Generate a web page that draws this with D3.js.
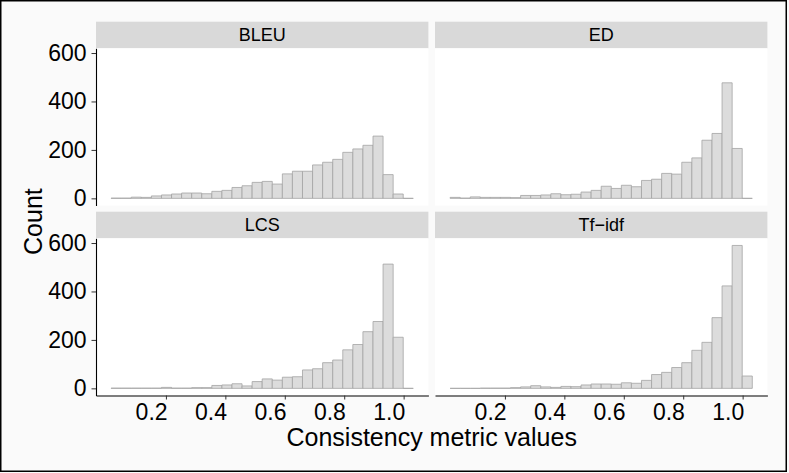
<!DOCTYPE html>
<html>
<head>
<meta charset="utf-8">
<script src="https://cdn.jsdelivr.net/npm/d3@7"></script>
<style>
  html, body { margin: 0; padding: 0; background: #fafafa; }
  svg { display: block; }
  text { font-family: "Liberation Sans", Arial, Helvetica, sans-serif; fill: #000; }
</style>
</head>
<body>
<svg id="chart" width="789" height="473"></svg>
<script>
// facet names, in draw order (row by row)
var panelNames = ["BLEU", "ED", "LCS", "Tf\u2212idf"];

// histogram bins: 30 bins of equal width, left edge of the first one
var binStart = 0.0155;
var binWidth = 0.0339;

// counts per bin
var bleuCounts  = [1, 1, 5, 4, 10, 14, 18, 22, 22, 19, 29, 33, 45, 52, 66, 70, 59, 101, 112, 112, 138, 149, 161, 190, 204, 219, 257, 98, 18, 0];
var edCounts    = [4, 1, 6, 4, 4, 4, 3, 12, 12, 14, 19, 15, 17, 26, 33, 50, 41, 54, 48, 74, 79, 103, 100, 149, 167, 240, 268, 477, 206, 0];
var lcsCounts   = [1, 1, 1, 1, 1, 4, 1, 1, 3, 3, 12, 14, 19, 10, 28, 39, 34, 46, 48, 76, 81, 106, 117, 159, 181, 234, 276, 513, 211, 0];
var tfidfCounts = [0, 0, 0, 1, 1, 1, 3, 6, 11, 6, 4, 8, 7, 14, 18, 18, 17, 23, 21, 33, 57, 66, 86, 106, 157, 190, 292, 423, 590, 51];

var xTicks = [0.2, 0.4, 0.6, 0.8, 1.0];
var yTicks = [0, 200, 400, 600];

var allCounts = [bleuCounts, edCounts, lcsCounts, tfidfCounts];

var svg = d3.select("#chart");

// layout
var W = 789, H = 473;
var colX = [96, 435], panelW = 332.4;
var rowY = [48.3, 238.3], panelH = 157.2;
var stripH = 26.6;

svg.append("rect").attr("x", 0).attr("y", 0).attr("width", W).attr("height", H).attr("fill", "#fafafa");

// shared scales, expanded 5% like ggplot
var nBins = bleuCounts.length;
var xLo = binStart, xHi = binStart + nBins * binWidth;
var xPad = (xHi - xLo) * 0.05;
var x = d3.scaleLinear().domain([xLo - xPad, xHi + xPad]).range([0, panelW]);

var yMax = d3.max(allCounts, function(c) { return d3.max(c); });
var y = d3.scaleLinear().domain([-yMax * 0.05, yMax * 1.05]).range([panelH, 0]);

panelNames.forEach(function(name, i) {
    var col = i % 2, row = Math.floor(i / 2);
    var g = svg.append("g").attr("transform", "translate(" + colX[col] + "," + rowY[row] + ")");

    // strip
    g.append("rect")
        .attr("x", 0).attr("y", -stripH)
        .attr("width", panelW).attr("height", stripH)
        .attr("fill", "#d9d9d9");
    g.append("text")
        .attr("x", panelW / 2).attr("y", -stripH / 2)
        .attr("dy", "0.36em")
        .attr("text-anchor", "middle")
        .style("font-size", "18px")
        .text(name);

    // panel
    g.append("rect").attr("width", panelW).attr("height", panelH).attr("fill", "#fff");

    // bars (paths so empty bins still show as a line)
    var bins = allCounts[i].map(function(c, k) {
        return { x0: binStart + k * binWidth, x1: binStart + (k + 1) * binWidth, n: c };
    });
    g.selectAll("path.bar").data(bins).enter().append("path")
        .attr("class", "bar")
        .attr("d", function(d) {
            var p = d3.path();
            p.moveTo(x(d.x0), y(0));
            p.lineTo(x(d.x0), y(d.n));
            p.lineTo(x(d.x1), y(d.n));
            p.lineTo(x(d.x1), y(0));
            p.closePath();
            return p.toString();
        })
        .attr("fill", "#dcdcdc")
        .attr("stroke", "#a3a3a3")
        .attr("stroke-width", 0.8);

    // y axis on left column only
    if (col === 0) {
        var ya = g.append("g")
            .call(d3.axisLeft(y).tickValues(yTicks).tickSize(4.5).tickPadding(5).tickSizeOuter(0));
        ya.select(".domain").attr("stroke", "#000").attr("stroke-width", 1.1);
        ya.selectAll(".tick line").attr("stroke", "#333").attr("stroke-width", 1);
        ya.selectAll(".tick text").style("font-size", "23px").attr("fill", "#000");
    }

    // x axis on bottom row only
    if (row === 1) {
        var xa = g.append("g")
            .attr("transform", "translate(0," + panelH + ")")
            .call(d3.axisBottom(x).tickValues(xTicks).tickFormat(d3.format(".1f")).tickSize(4).tickPadding(4).tickSizeOuter(0));
        xa.select(".domain").attr("stroke", "#000").attr("stroke-width", 1.1);
        xa.selectAll(".tick line").attr("stroke", "#333").attr("stroke-width", 1);
        xa.selectAll(".tick text")
            .style("font-size", "23px")
            .attr("fill", "#000")
            .attr("text-anchor", "end")
            .attr("dx", "0.05em");
    }
});

// axis titles
svg.append("text")
    .attr("x", (colX[0] + colX[1] + panelW) / 2).attr("y", 446)
    .attr("text-anchor", "middle")
    .style("font-size", "25px")
    .text("Consistency metric values");

svg.append("text")
    .attr("transform", "translate(42," + (rowY[0] - stripH + (rowY[1] + panelH - rowY[0] + stripH) / 2 + 13) + ") rotate(-90)")
    .attr("text-anchor", "middle")
    .style("font-size", "25px")
    .text("Count");

// outer frame
svg.append("rect")
    .attr("x", 0.75).attr("y", 0.75)
    .attr("width", 785.5).attr("height", 470.5)
    .attr("fill", "none")
    .attr("stroke", "#000")
    .attr("stroke-width", 1.5);
</script>
</body>
</html>
